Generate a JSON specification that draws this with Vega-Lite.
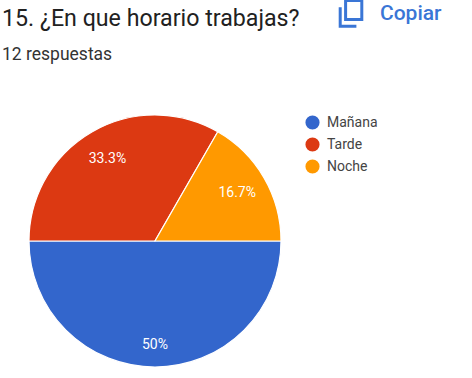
{
"$schema":"https://vega.github.io/schema/vega-lite/v6.json",
"width":252,"height":252,
"autosize":"none",
"padding":{"left":29,"top":115,"right":191,"bottom":11},
"background":"white",
"title":{"text":"15. ¿En que horario trabajas?","subtitle":"12 respuestas","anchor":"start","frame":"group","dx":-27,"offset":-65,"font":"Roboto","fontSize":23.2,"fontWeight":"normal","color":"#212121","subtitleFont":"Roboto","subtitleFontSize":17.5,"subtitleColor":"#333333","subtitlePadding":14},
"datasets":{
"respuestas":[{"horario":"Mañana","porcentaje":50,"etiqueta":"50%","orden":1},{"horario":"Tarde","porcentaje":33.3,"etiqueta":"33.3%","orden":2},{"horario":"Noche","porcentaje":16.7,"etiqueta":"16.7%","orden":3}],
"accion":[{"accion":"Copiar"}]
},
"layer":[
{"data":{"name":"respuestas"},
"mark":{"type":"arc","stroke":"white","strokeWidth":1.2},
"encoding":{
"theta":{"field":"porcentaje","type":"quantitative","stack":true,"scale":{"domain":[0,100],"range":[1.5708,7.854]}},
"order":{"field":"orden","type":"quantitative"},
"fill":{"field":"horario","type":"nominal","sort":["Mañana","Tarde","Noche"],"scale":{"domain":["Mañana","Tarde","Noche"],"range":["#3366cc","#dc3912","#ff9900"]},
"legend":{"title":null,"orient":"none","legendX":276,"legendY":0,"symbolType":"circle","symbolSize":200,"symbolStrokeWidth":0,"labelFont":"Roboto","labelFontSize":14,"labelColor":"#444444","rowPadding":7,"labelOffset":7}}
}},
{"data":{"name":"respuestas"},
"mark":{"type":"text","font":"Roboto","fontSize":14,"radius":95,"color":"white"},
"encoding":{
"theta":{"field":"porcentaje","type":"quantitative","stack":true,"scale":{"domain":[0,100],"range":[1.5708,7.854]}},
"order":{"field":"orden","type":"quantitative"},
"text":{"condition":{"test":"datum.horario==='Mañana'","value":""},"field":"etiqueta","type":"nominal"}
}},
{"data":{"name":"respuestas"},
"transform":[{"filter":"datum.horario==='Mañana'"}],
"mark":{"type":"text","font":"Roboto","fontSize":14,"radius":104,"color":"white"},
"encoding":{
"theta":{"field":"porcentaje","type":"quantitative","stack":true,"scale":{"domain":[0,100],"range":[1.5708,7.854]}},
"text":{"field":"etiqueta","type":"nominal"}
}},
{"data":{"name":"accion"},
"mark":{"type":"point","size":0,"filled":false},
"encoding":{
"stroke":{"field":"accion","type":"nominal","scale":{"range":["#3a76d6"]},
"legend":{"title":null,"orient":"none","legendX":307,"legendY":-116,"symbolType":"M -0.4 -1 H 0.8 V 0.4 H -0.4 Z M -0.8 -0.5 V 0.9 H 0.4","symbolSize":729,"symbolStrokeWidth":3,"symbolOpacity":1,"symbolFillColor":"transparent","labelFont":"Roboto","labelFontSize":21,"labelFontWeight":500,"labelColor":"#3a76d6","labelOffset":14}}
}}
],
"config":{"view":{"stroke":null}}
}
